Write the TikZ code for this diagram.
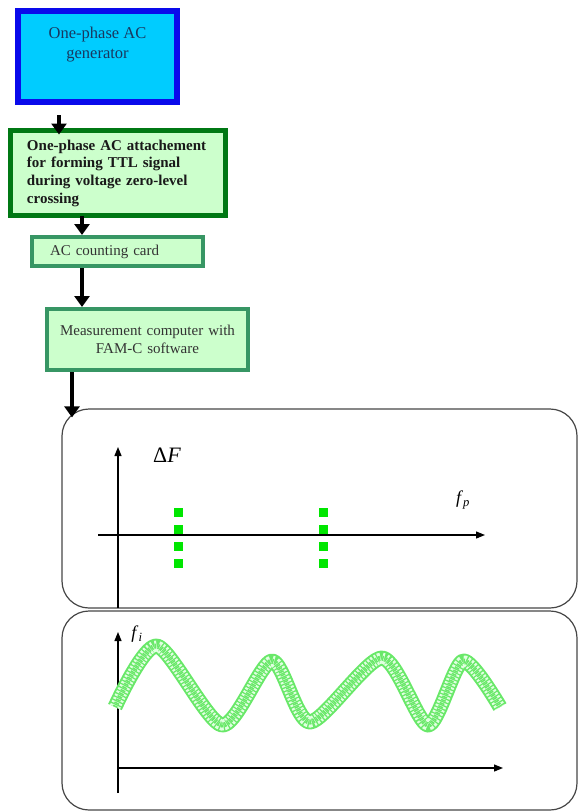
\documentclass[tikz,border=0pt]{standalone}
\usepackage{fontspec}
\setmainfont{Liberation Serif}
\usetikzlibrary{arrows.meta}
\definecolor{genblue}{RGB}{10,10,235}
\definecolor{gencyan}{RGB}{0,204,255}
\definecolor{gentext}{RGB}{25,55,95}
\definecolor{attgreen}{RGB}{0,120,20}
\definecolor{cardgreen}{RGB}{55,150,100}
\definecolor{palegreen}{RGB}{204,255,204}
\definecolor{panelgray}{RGB}{70,70,70}
\definecolor{markgreen}{RGB}{0,230,0}
\definecolor{wavelight}{RGB}{225,255,225}
\definecolor{wavedark}{RGB}{105,232,105}
\tikzset{
  genbox/.style={draw=genblue, fill=gencyan, line width=6pt, inner sep=0pt},
  attbox/.style={draw=attgreen, fill=palegreen, line width=5pt, font=\fontsize{15}{17.7}\selectfont\bfseries, text=black!90},
  cardbox/.style={draw=cardgreen, fill=palegreen, line width=4pt, font=\fontsize{15}{18}\selectfont, text=black!80},
  flow/.style={line width=4.5pt, -{Triangle[length=11pt,width=15pt]}},
  axis/.style={line width=1.2pt, -{Triangle[length=9pt,width=7pt]}},
  panel/.style={draw=panelgray, line width=1.2pt, rounded corners=27pt, inner sep=0pt}
}

\begin{document}
\begin{tikzpicture}[x=1pt, y=-1pt]
\useasboundingbox (0,0) rectangle (578,811);

  % Flow boxes
  \node[genbox, minimum width=159pt, minimum height=91pt] (gen) at (97.5,56.5) {};
  \node[align=center, text=gentext, font=\fontsize{16.5}{20}\selectfont] (gentxt) at (97.5,45) {One-phase AC\\generator};
  \node[attbox, text width=182pt, inner xsep=16.5pt, minimum height=85pt, align=left] (att) at (118,173)
    {One-phase AC attachement\\for forming TTL signal\\during voltage zero-level\\crossing};
  \node[cardbox, text width=135pt, inner xsep=18pt, minimum height=29pt, align=left] (card) at (117.5,251.5) {AC counting card};
  \node[cardbox, text width=181pt, inner xsep=10pt, minimum height=61pt, align=center] (pc) at (147.5,339.5)
    {Measurement computer with\\FAM-C software};

  % Panels
  \node[panel, minimum width=515pt, minimum height=199pt] (spec) at (319.5,508.5) {};
  \node[panel, minimum width=515pt, minimum height=199pt] (wave) at (319.5,710.5) {};

  % Arrows
  \draw[flow, shorten <=10pt, shorten >=-6.5pt] ([xshift=-38.5pt]gen.south) -- ([xshift=-59pt]att.north);
  \draw[flow, shorten <=-2.5pt] ([xshift=-36pt]att.south) -- ([xshift=-35.5pt]card.north);
  \draw[flow] ([xshift=-35.5pt]card.south) -- ([xshift=-65.5pt]pc.north);
  \draw[flow, shorten >=-9pt] ([xshift=-75.5pt]pc.south) -- ([xshift=-247.5pt]spec.north);

  % Upper panel
  \draw[axis] (118,608) -- (118,447);
  \draw[axis] (98,535) -- (485,535);
  \node[font=\fontsize{22}{24}\selectfont] (dF) at (167,455) {Δ\textit{F}};
  \node[font=\fontsize{18}{20}\selectfont] (fp) at (463,500) {\textit{f}\textsubscript{\textit{p}}};
  \foreach \x in {178,323}
    \foreach \y in {512,529,546,563}
      \fill[markgreen] (\x-4.5,\y-4.5) rectangle ++(9,9);

  % Lower panel
  \draw[axis] (118,793) -- (118,632);
  \draw[axis] (118,768) -- (503,768);
  \node[font=\fontsize{18}{20}\selectfont] (fi) at (137,634) {\textit{f}\textsubscript{\textit{i}}};
  \draw[wavedark, line width=15pt, line join=round]
    plot[smooth, tension=0.45] coordinates {(115,707) (157,646) (222,725) (272,661) (310,722) (382,658) (428,725) (463,661) (500,707)};
  \draw[wavelight, line width=11pt, dash pattern=on 2pt off 1.5pt]
    plot[smooth, tension=0.45] coordinates {(115,707) (157,646) (222,725) (272,661) (310,722) (382,658) (428,725) (463,661) (500,707)};
  \draw[wavedark, line width=5pt, dash pattern=on 1.5pt off 2pt]
    plot[smooth, tension=0.45] coordinates {(115,707) (157,646) (222,725) (272,661) (310,722) (382,658) (428,725) (463,661) (500,707)};

\end{tikzpicture}
\end{document}
